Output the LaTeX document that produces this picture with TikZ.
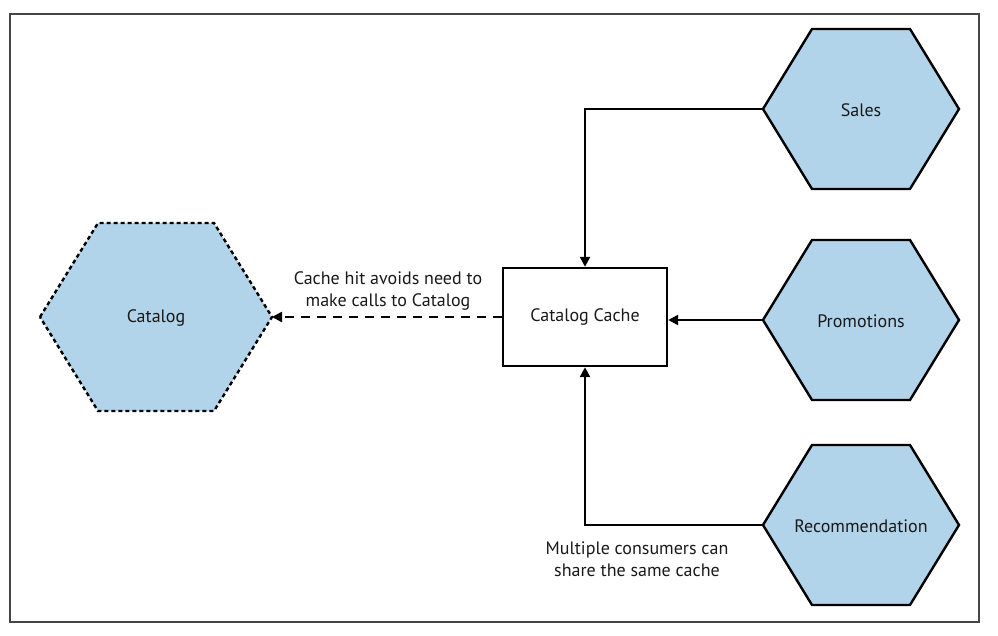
\documentclass[tikz,border=0pt]{standalone}
\usepackage{fontspec}
\setmainfont{PT Sans}
\usetikzlibrary{arrows.meta}
\definecolor{hexblue}{RGB}{178,212,234}
\definecolor{framegray}{RGB}{70,70,70}
\tikzset{
  hexshape/.style={fill=hexblue, draw=black, line width=2.4pt, line join=miter},
  txt/.style={font=\fontsize{18}{22}\selectfont, align=center, text=black!90},
  conn/.style={draw=black, line width=2.4pt, -{Triangle[length=10pt,width=10pt]}},
}
\newcommand{\hexat}[5]{% name, cx, cy, halfwidth, halfheight
  \coordinate (#1L) at (#2-#4,#3);
  \coordinate (#1R) at (#2+#4,#3);
  \path[hexshape] (#2-#4,#3) -- (#2-#4/2,#3-#5) -- (#2+#4/2,#3-#5) -- (#2+#4,#3) -- (#2+#4/2,#3+#5) -- (#2-#4/2,#3+#5) -- cycle;
}
\begin{document}
\begin{tikzpicture}[x=1pt,y=-1pt]
\useasboundingbox (0,0) rectangle (998,636);
\draw[framegray, line width=1.4pt] (10,14) rectangle (979,622);
% Catalog (dashed)
\coordinate (catL) at (40,317);
\coordinate (catR) at (272,317);
\path[fill=hexblue, draw=black, line width=2.4pt, dash pattern=on 4pt off 3pt]
  (40,317) -- (98,223) -- (214,223) -- (272,317) -- (214,411) -- (98,411) -- cycle;
\node[txt] (catalog) at (156,318) {Catalog};
% consumers
\hexat{sales}{861}{109}{98}{80}
\node[txt] (sales) at (861,110) {Sales};
\hexat{promo}{861}{320}{98}{80}
\node[txt] (promo) at (861,321) {Promotions};
\hexat{rec}{861}{525}{98}{80}
\node[txt] (rec) at (861,526) {Recommendation};
% cache box
\node[draw=black, line width=2.4pt, minimum width=164pt, minimum height=98pt, txt] (cache) at (585,317) {Catalog Cache};
% connectors
\coordinate (salesCorner) at (585,109);
\coordinate (recCorner) at (585,525);
\draw[conn] (salesL) -- (salesCorner) -- (cache.north);
\draw[conn] (promoL) -- (cache.east |- promoL);
\draw[conn] (recL) -- (recCorner) -- (cache.south);
\draw[conn, dash pattern=on 9pt off 7pt] (cache.west) -- (catR);
% labels
\node[txt] (hitnote) at (388,291) {Cache hit avoids need to\\make calls to Catalog};
\node[txt] (sharenote) at (637,559) {Multiple consumers can\\share the same cache};
\end{tikzpicture}
\end{document}
